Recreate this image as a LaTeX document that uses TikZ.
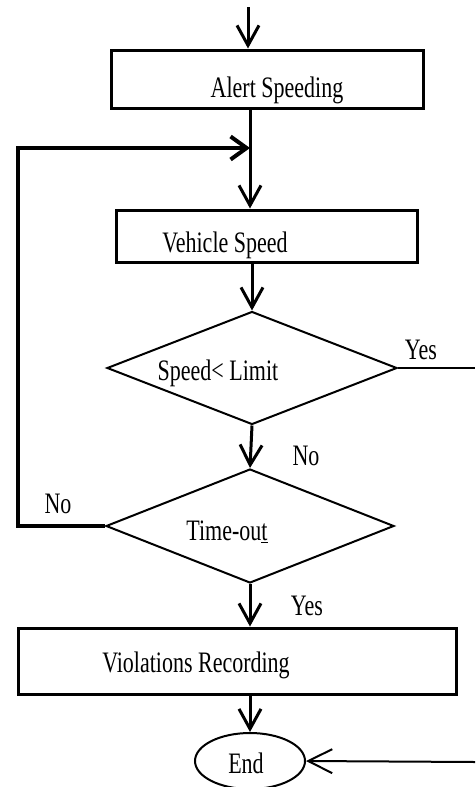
\documentclass[tikz,border=0pt]{standalone}
\usepackage{fontspec}
\usepackage{graphicx}
\setmainfont{Liberation Serif}
\usetikzlibrary{shapes.geometric,arrows.meta}
\newcommand{\tallt}[1]{\scalebox{1}[1.35]{#1}}
\begin{document}
\begin{tikzpicture}[x=1pt,y=-1pt,
  box/.style={draw,line width=3pt,rectangle,inner sep=0pt},
  dec/.style={draw,line width=2pt,diamond,inner sep=0pt},
  term/.style={draw,line width=2pt,ellipse,inner sep=0pt},
  txt/.style={anchor=base,inner sep=0pt,font=\fontsize{22}{26}\selectfont},
  conn/.style={line width=3pt,-{Straight Barb[length=20pt,width=22pt]}},
  thinconn/.style={line width=2pt,-{Straight Barb[length=24pt,width=24pt]}},
  loopline/.style={line width=4pt,-{Straight Barb[length=16pt,width=23pt]}},
  plain/.style={line width=2pt}]
\useasboundingbox (0,0) rectangle (475,787);
\fill[white] (0,0) rectangle (475,787);

% shapes
\node[box,minimum width=312pt,minimum height=58pt] (alert) at (267,79) {};
\node[box,minimum width=301pt,minimum height=52pt] (vspeed) at (266.5,236) {};
\node[dec,minimum width=290pt,minimum height=113pt] (d1) at (252,368) {};
\node[dec,minimum width=288pt,minimum height=114pt] (d2) at (250,526) {};
\node[box,minimum width=438pt,minimum height=66pt] (viol) at (237,661) {};
\node[term,minimum width=110pt,minimum height=56pt] (endn) at (250,761) {};

% texts
\node[txt] (talert) at (277,97) {\tallt{Alert Speeding}};
\node[txt] (tvs) at (225,252) {\tallt{Vehicle Speed}};
\node[txt] (td1) at (218,380) {\tallt{Speed< Limit}};
\node[txt] (td2) at (227,540) {\tallt{Time-ou\underline{t}}};
\node[txt] (tviol) at (196,672) {\tallt{Violations Recording}};
\node[txt] (tend) at (246,773) {\tallt{End}};

% labels
\node[txt] (lyes1) at (421,359) {\tallt{Yes}};
\node[txt] (lno1) at (306,465) {\tallt{No}};
\node[txt] (lno2) at (58,513) {\tallt{No}};
\node[txt] (lyes2) at (307,615) {\tallt{Yes}};

% free ends
\coordinate (start) at (248,7);
\coordinate (ax) at (250,0);
\coordinate (lp) at (18,148);
\coordinate (rtop) at (475,368);
\coordinate (rbot) at (475,762);

% connectors
\draw[conn] (start) -- (start |- alert.north);
\draw[line width=3pt] (alert.south -| ax) -- (lp -| ax);
\draw[conn] (lp -| ax) -- (vspeed.north -| ax);
\draw[conn] (vspeed.south -| d1.north) -- (d1.north);
\draw[conn] (d1.south) -- (d2.north);
\draw[conn] (d2.south) -- (viol.north -| d2.south);
\draw[conn] (viol.south -| endn.north) -- (endn.north);
\draw[plain] (d1.east) -- (rtop);
\draw[thinconn] (rbot) -- (endn.east);
\draw[loopline] (d2.west) -- (d2.west -| lp) -- (lp) -- (lp -| ax);
\end{tikzpicture}
\end{document}
